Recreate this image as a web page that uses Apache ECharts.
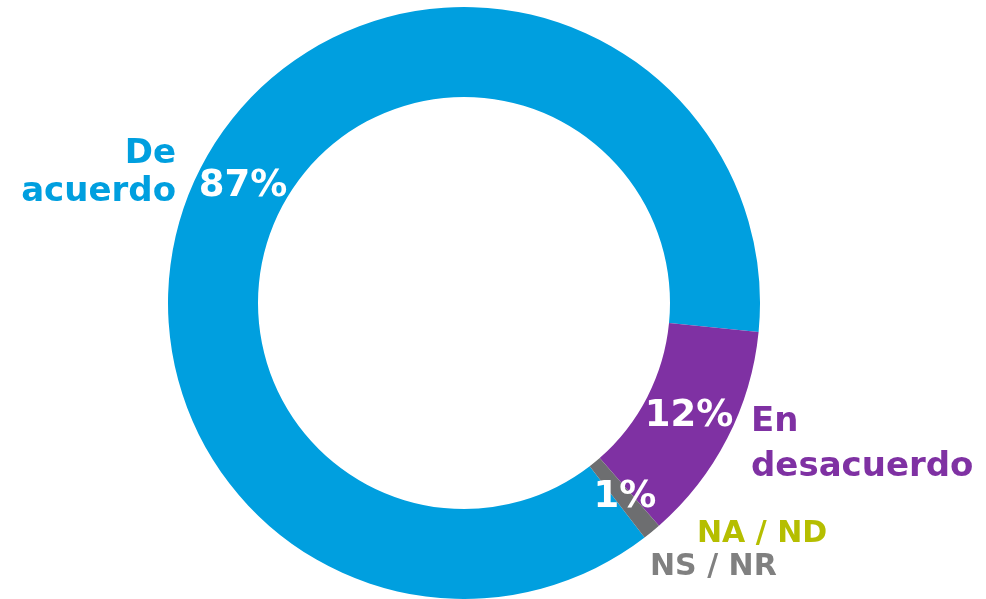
<!DOCTYPE html>
<html>
<head>
<meta charset="utf-8">
<style>
  html, body { margin: 0; padding: 0; background: #fff; }
  #chart { width: 986px; height: 599px; }
</style>
<script src="https://cdn.jsdelivr.net/npm/echarts@6/dist/echarts.min.js"></script>
</head>
<body>
<div id="chart"></div>
<script>
const categories = ['De acuerdo', 'En desacuerdo', 'NA / ND', 'NS / NR']
const values = [87, 12, 0, 1]
const sliceColors = ['#009fdf', '#7f31a3', '#b5be00', '#6d6e70']
const nameColors = ['#009fdf', '#7f31a3', '#b5be00', '#808080']

const FONT = '"DejaVu Sans", sans-serif'

// label spots, hand placed like the original
const pctPos = [[243, 186], [689, 416], null, [625, 497]]
const namePos = [
  { x: 176, y: 173, align: 'right', size: 34, lh: 38 },
  { x: 751, y: 445, align: 'left', size: 34, lh: 45 },
  { x: 697, y: 534, align: 'left', size: 30, lh: 30 },
  { x: 650, y: 567, align: 'left', size: 30, lh: 30 }
]

const chart = echarts.init(document.getElementById('chart'), null, { renderer: 'canvas' })

const graphics = []
values.forEach((v, i) => {
  if (pctPos[i] && v > 0) {
    graphics.push({
      type: 'text', x: pctPos[i][0], y: pctPos[i][1], z: 100,
      style: {
        text: v + '%', fill: '#fff', font: 'bold 37px ' + FONT,
        align: 'center', verticalAlign: 'middle'
      }
    })
  }
  const p = namePos[i]
  const txt = i < 2 ? categories[i].replace(' ', '\n') : categories[i]
  graphics.push({
    type: 'text', x: p.x, y: p.y, z: 100,
    style: {
      text: txt, fill: nameColors[i], font: 'bold ' + p.size + 'px ' + FONT,
      align: p.align, verticalAlign: 'middle', lineHeight: p.lh
    }
  })
})

chart.setOption({
  animation: false,
  series: [{
    type: 'pie',
    center: [464, 303],
    radius: [206, 296],
    startAngle: 307.6,
    clockwise: true,
    silent: true,
    label: { show: false },
    labelLine: { show: false },
    itemStyle: { borderWidth: 0 },
    data: categories.map((c, i) => ({ name: c, value: values[i], itemStyle: { color: sliceColors[i] } }))
  }],
  graphic: graphics
})
</script>
</body>
</html>
